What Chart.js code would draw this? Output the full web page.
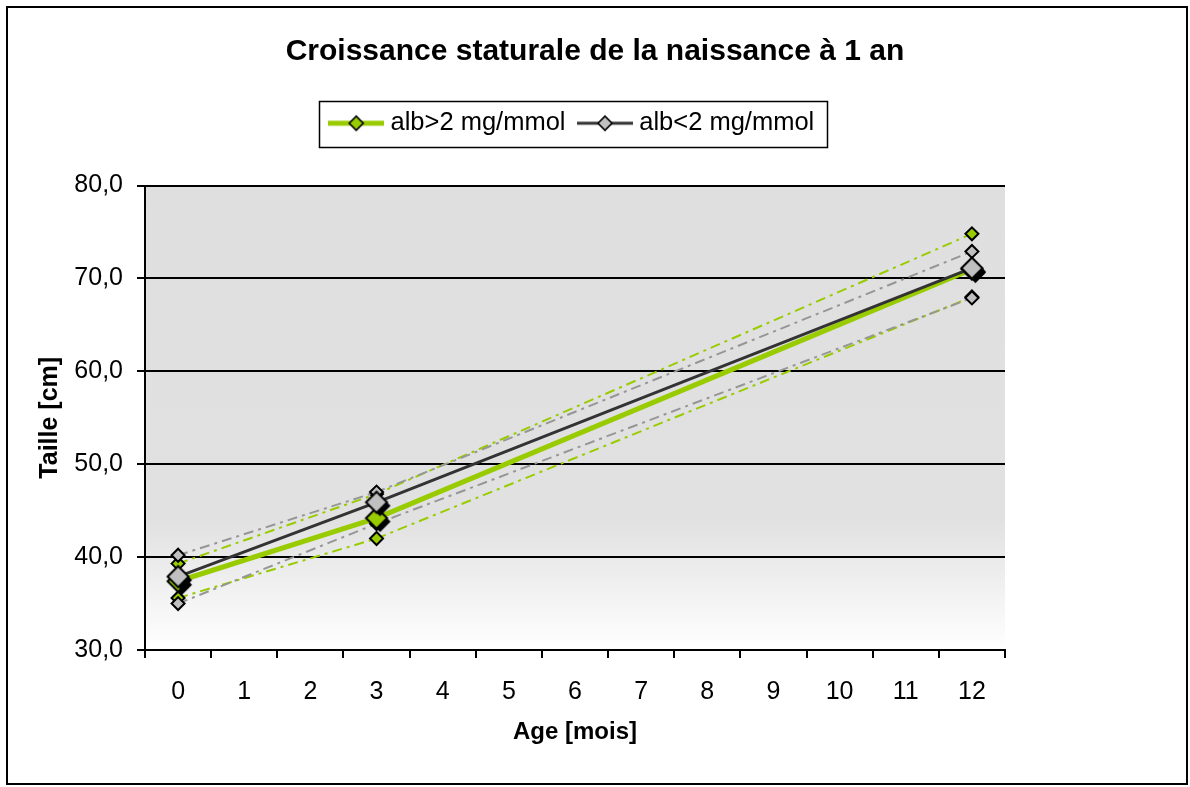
<!DOCTYPE html>
<html>
<head>
<meta charset="utf-8">
<script src="https://cdn.jsdelivr.net/npm/chart.js@4"></script>
<style>
html,body{margin:0;padding:0;background:#fff;}
#wrap{width:1190px;height:787px;position:relative;}
canvas{display:block;}
</style>
</head>
<body>
<div id="wrap"><canvas id="c" width="1190" height="787"></canvas></div>
<script>
// ---- data ----
const categories = ['0','1','2','3','4','5','6','7','8','9','10','11','12'];
const albHighMean  = [37.4, null, null, 44.2, null, null, null, null, null, null, null, null, 71.0];
const albHighUpper = [39.3, null, null, 46.8, null, null, null, null, null, null, null, null, 74.8];
const albHighLower = [35.6, null, null, 42.0, null, null, null, null, null, null, null, null, 68.0];
const albLowMean   = [37.9, null, null, 45.9, null, null, null, null, null, null, null, null, 71.1];
const albLowUpper  = [40.2, null, null, 47.0, null, null, null, null, null, null, null, null, 72.9];
const albLowLower  = [35.0, null, null, 43.6, null, null, null, null, null, null, null, null, 67.9];
const seriesNames = ['alb>2 mg/mmol', 'alb<2 mg/mmol'];
const chartTitle = 'Croissance staturale de la naissance à 1 an';
const xTitle = 'Age [mois]';
const yTitle = 'Taille [cm]';

// ---- styles ----
const GREEN = '#99cc00';
const DARK = '#333333';
const GRAYFILL = '#c0c0c0';
const GRAYDASH = '#969696';
const FONT = "'Liberation Sans', Arial, sans-serif";

function diamond(g, cx, cy, r) {
  g.beginPath();
  g.moveTo(cx - r, cy); g.lineTo(cx, cy - r); g.lineTo(cx + r, cy); g.lineTo(cx, cy + r); g.closePath();
}
function bigMarker(fill) {
  const c = document.createElement('canvas');
  c.width = 40; c.height = 40;
  const g = c.getContext('2d');
  diamond(g, 23.5, 23.5, 10.5); g.fillStyle = '#000'; g.fill();
  diamond(g, 20, 20, 10.5); g.fillStyle = fill; g.fill();
  g.lineWidth = 2; g.strokeStyle = '#000'; g.stroke();
  return c;
}
function legendSample(lineColor, lineW, fill) {
  const c = document.createElement('canvas');
  c.width = 56; c.height = 20;
  const g = c.getContext('2d');
  g.strokeStyle = lineColor; g.lineWidth = lineW;
  g.beginPath(); g.moveTo(0, 10); g.lineTo(56, 10); g.stroke();
  diamond(g, 28, 10, 7); g.fillStyle = fill; g.fill();
  g.lineWidth = 1.6; g.strokeStyle = '#000'; g.stroke();
  return c;
}
const bigGreen = bigMarker(GREEN);
const bigGray = bigMarker(GRAYFILL);
const legGreen = legendSample(GREEN, 5, GREEN);
const legGray = legendSample(DARK, 3, GRAYFILL);

const framePlugin = {
  id: 'frame',
  beforeDraw(chart) {
    const ctx = chart.ctx, a = chart.chartArea;
    ctx.save();
    ctx.fillStyle = '#fff';
    ctx.fillRect(0, 0, chart.width, chart.height);
    const grad = ctx.createLinearGradient(0, a.top, 0, a.bottom);
    grad.addColorStop(0, '#dfdfdf');
    grad.addColorStop(0.72, '#e1e1e1');
    grad.addColorStop(1, '#ffffff');
    ctx.fillStyle = grad;
    ctx.fillRect(a.left, a.top, a.right - a.left, a.bottom - a.top);
    ctx.restore();
  },
  afterLayout(chart) {
    const lg = chart.legend;
    if (!lg) return;
    const dy = 92.5 - lg.top;
    lg.top += dy; lg.bottom += dy;
    lg.left -= 20.5; lg.right -= 20.5;
  },
  afterDraw(chart) {
    const ctx = chart.ctx;
    ctx.save();
    ctx.strokeStyle = '#000';
    ctx.lineWidth = 2;
    ctx.strokeRect(7, 7, 1180, 777);
    const hb = chart.legend && chart.legend.legendHitBoxes;
    if (hb && hb.length) {
      let l = Infinity, r = -Infinity, t = Infinity, b = -Infinity;
      hb.forEach(h => { l = Math.min(l, h.left); r = Math.max(r, h.left + h.width); t = Math.min(t, h.top); b = Math.max(b, h.top + h.height); });
      ctx.lineWidth = 1.5;
      ctx.strokeRect(Math.round(l - 15.5) + 0.5, Math.round(t - 9.5) + 0.5, Math.round(r - l + 28.5), Math.round(b - t + 20));
    }
    ctx.restore();
  }
};

const dashed = (label, data, color, fill) => ({
  label, data,
  borderColor: color, borderWidth: 2, borderDash: [10, 5, 3, 5],
  pointStyle: 'rectRot', pointRadius: 6.5, pointBorderWidth: 2,
  pointBorderColor: '#000', pointBackgroundColor: fill,
  spanGaps: true, tension: 0, fill: false
});

new Chart(document.getElementById('c'), {
  type: 'line',
  data: {
    labels: categories,
    datasets: [
      { label: seriesNames[1], data: albLowMean, borderColor: DARK, borderWidth: 3,
        pointStyle: bigGray, spanGaps: true, tension: 0, fill: false },
      { label: seriesNames[0], data: albHighMean, borderColor: GREEN, borderWidth: 5,
        pointStyle: bigGreen, spanGaps: true, tension: 0, fill: false },
      dashed('alb<2 sup', albLowUpper, GRAYDASH, GRAYFILL),
      dashed('alb<2 inf', albLowLower, GRAYDASH, GRAYFILL),
      dashed('alb>2 sup', albHighUpper, GREEN, GREEN),
      dashed('alb>2 inf', albHighLower, GREEN, GREEN)
    ]
  },
  options: {
    responsive: false,
    animation: false,
    devicePixelRatio: 1,
    events: [],
    layout: { padding: { left: 7, right: 7, top: 7, bottom: 7 } },
    plugins: {
      title: {
        display: true, text: chartTitle, color: '#000',
        font: { family: FONT, size: 30, weight: 'bold', lineHeight: 1.2 },
        padding: { top: 27, bottom: 62 }
      },
      legend: {
        display: true, position: 'top',
        labels: {
          usePointStyle: true, pointStyleWidth: 43, padding: 18, color: '#000',
          font: { family: FONT, size: 25.5 },
          generateLabels: () => [
            { text: seriesNames[0], pointStyle: legGreen, datasetIndex: 1, fillStyle: GREEN, strokeStyle: '#000', lineWidth: 0, hidden: false, fontColor: '#000' },
            { text: seriesNames[1], pointStyle: legGray, datasetIndex: 0, fillStyle: GRAYFILL, strokeStyle: '#000', lineWidth: 0, hidden: false, fontColor: '#000' }
          ]
        }
      },
      tooltip: { enabled: false }
    },
    scales: {
      x: {
        type: 'category', offset: true,
        grid: { display: true, drawOnChartArea: false, drawTicks: true, tickLength: 8, color: '#000', lineWidth: 2, offset: true },
        border: { display: true, color: '#000', width: 2 },
        ticks: { color: '#000', font: { family: FONT, size: 25 }, padding: 19, maxRotation: 0, autoSkip: false },
        title: { display: true, text: xTitle, color: '#000', font: { family: FONT, size: 24, weight: 'bold', lineHeight: 1.2 }, padding: { top: 0, bottom: 33 } },
        afterFit(s) { s.height = 130; }
      },
      y: {
        position: 'left', min: 30, max: 80,
        grid: { display: true, drawOnChartArea: true, drawTicks: true, tickLength: 8, color: '#000', lineWidth: 2 },
        border: { display: true, color: '#000', width: 2 },
        ticks: { stepSize: 10, color: '#000', font: { family: FONT, size: 25 }, padding: 14,
          callback: v => v.toFixed(1).replace('.', ',') },
        title: { display: true, text: yTitle, color: '#000', font: { family: FONT, size: 25, weight: 'bold', lineHeight: 1.2 }, padding: { top: 28, bottom: 0 } },
        afterFit(s) { s.width = 138; }
      },
      spacer: {
        position: 'right', display: true,
        grid: { display: false }, border: { display: false }, ticks: { display: false },
        afterFit(s) { s.width = 178; }
      }
    }
  },
  plugins: [framePlugin]
});
</script>
</body>
</html>
